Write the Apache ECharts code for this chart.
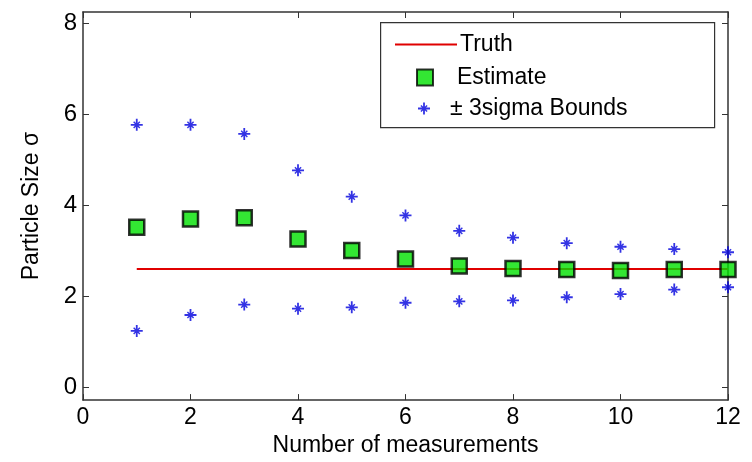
<!DOCTYPE html>
<html>
<head>
    <meta charset="utf-8"/>
    <title>Particle Size</title>
    <style>
        html, body { margin: 0; padding: 0; background: #fff; }
        #main { width: 752px; height: 462px; }
    </style>
</head>
<body>
<div id="main"></div>
<script src="https://cdn.jsdelivr.net/npm/echarts@6/dist/echarts.min.js"></script>
<script>
    // 数据
    var measurements = [1, 2, 3, 4, 5, 6, 7, 8, 9, 10, 11, 12];
    var truth = [2.60, 2.60, 2.60, 2.60, 2.60, 2.60, 2.60, 2.60, 2.60, 2.60, 2.60, 2.60];
    var estimate = [3.52, 3.70, 3.73, 3.26, 3.01, 2.82, 2.67, 2.61, 2.59, 2.57, 2.59, 2.59];
    var upperBound = [5.77, 5.77, 5.57, 4.77, 4.19, 3.78, 3.44, 3.29, 3.17, 3.09, 3.04, 2.97];
    var lowerBound = [1.24, 1.59, 1.82, 1.73, 1.76, 1.86, 1.89, 1.91, 1.98, 2.05, 2.15, 2.20];
    var xTicks = [0, 2, 4, 6, 8, 10, 12];
    var yTicks = [0, 2, 4, 6, 8];

    var font = 'Liberation Sans';
    var axisColor = '#333';

    function pairs(ys) {
        var out = [];
        for (var i = 0; i < measurements.length; i++) {
            out.push([measurements[i], ys[i]]);
        }
        return out;
    }

    // 星号标记
    var star = 'path://M-0.9,-6L0.9,-6L0.9,6L-0.9,6Z' +
        'M-6,-0.9L6,-0.9L6,0.9L-6,0.9Z' +
        'M-3.6,-2.6L-2.6,-3.6L3.6,2.6L2.6,3.6Z' +
        'M2.6,-3.6L3.6,-2.6L-2.6,3.6L-3.6,2.6Z';

    var bounds = pairs(upperBound).concat(pairs(lowerBound));

    var boxAxis = {
        axisLine: { show: true, onZero: false, lineStyle: { color: axisColor, width: 1.5 } },
        axisTick: { inside: true, length: 6, lineStyle: { color: axisColor } }
    };

    var option = {
        animation: false,
        grid: { left: 83, right: 24, top: 12, bottom: 59 },
        legend: [
            {
                data: [{ name: 'Truth', icon: 'rect' }], left: 390, top: 28, itemWidth: 62, itemHeight: 2, itemGap: 0,
                textStyle: { fontFamily: font, fontSize: 23, color: '#000', padding: [0, 0, 0, -2] }
            },
            {
                data: ['Estimate'], left: 411, top: 61, itemWidth: 16, itemHeight: 16,
                textStyle: { fontFamily: font, fontSize: 23, color: '#000', padding: [0, 0, 0, 19] }
            },
            {
                data: ['\u00b1 3sigma Bounds'], left: 413, top: 92, itemWidth: 12, itemHeight: 12,
                textStyle: { fontFamily: font, fontSize: 23, color: '#000', padding: [0, 0, 0, 15] }
            }
        ],
        graphic: [{
            type: 'rect', left: 380, top: 22, z: 0,
            shape: { width: 334, height: 105 },
            style: { fill: '#fff', stroke: '#333', lineWidth: 1.2 }
        }],
        xAxis: [
            {
                type: 'value', min: 0, max: 12, interval: 2,
                name: 'Number of measurements', nameLocation: 'middle', nameGap: 26,
                nameTextStyle: { fontFamily: font, fontSize: 23, color: '#000' },
                axisLine: boxAxis.axisLine, axisTick: boxAxis.axisTick,
                axisLabel: { fontFamily: font, fontSize: 23, color: '#000', margin: 6 },
                splitLine: { show: false }
            },
            {
                type: 'value', position: 'top', min: 0, max: 12, interval: 2,
                axisLine: boxAxis.axisLine, axisTick: boxAxis.axisTick,
                axisLabel: { show: false },
                splitLine: { show: false }
            }
        ],
        yAxis: [
            {
                type: 'value', min: -0.28, max: 8.25,
                name: 'Particle Size \u03c3', nameLocation: 'middle', nameGap: 40,
                nameTextStyle: { fontFamily: font, fontSize: 23, color: '#000' },
                axisLine: boxAxis.axisLine,
                axisTick: { inside: true, length: 6, customValues: yTicks, lineStyle: { color: axisColor } },
                axisLabel: { fontFamily: font, fontSize: 24, color: '#000', margin: 6, customValues: yTicks },
                splitLine: { show: false }
            },
            {
                type: 'value', position: 'right', min: -0.28, max: 8.25,
                axisLine: boxAxis.axisLine,
                axisTick: { inside: true, length: 6, customValues: yTicks, lineStyle: { color: axisColor } },
                axisLabel: { show: false },
                splitLine: { show: false }
            }
        ],
        series: [
            {
                name: 'Truth', type: 'line', data: pairs(truth),
                symbol: 'none', z: 2,
                lineStyle: { color: '#e00000', width: 2 },
                itemStyle: { color: '#e00000' }
            },
            {
                name: '\u00b1 3sigma Bounds', type: 'scatter', data: bounds,
                symbol: star, symbolSize: 12, z: 3,
                itemStyle: { color: '#0000dd' }
            },
            {
                name: 'Estimate', type: 'scatter', data: pairs(estimate),
                symbol: 'rect', symbolSize: 15, z: 4,
                itemStyle: { color: '#00e000', borderColor: '#000', borderWidth: 2.5 }
            }
        ]
    };

    var myChart = echarts.init(document.getElementById('main'));
    myChart.setOption(option);
</script>
</body>
</html>
